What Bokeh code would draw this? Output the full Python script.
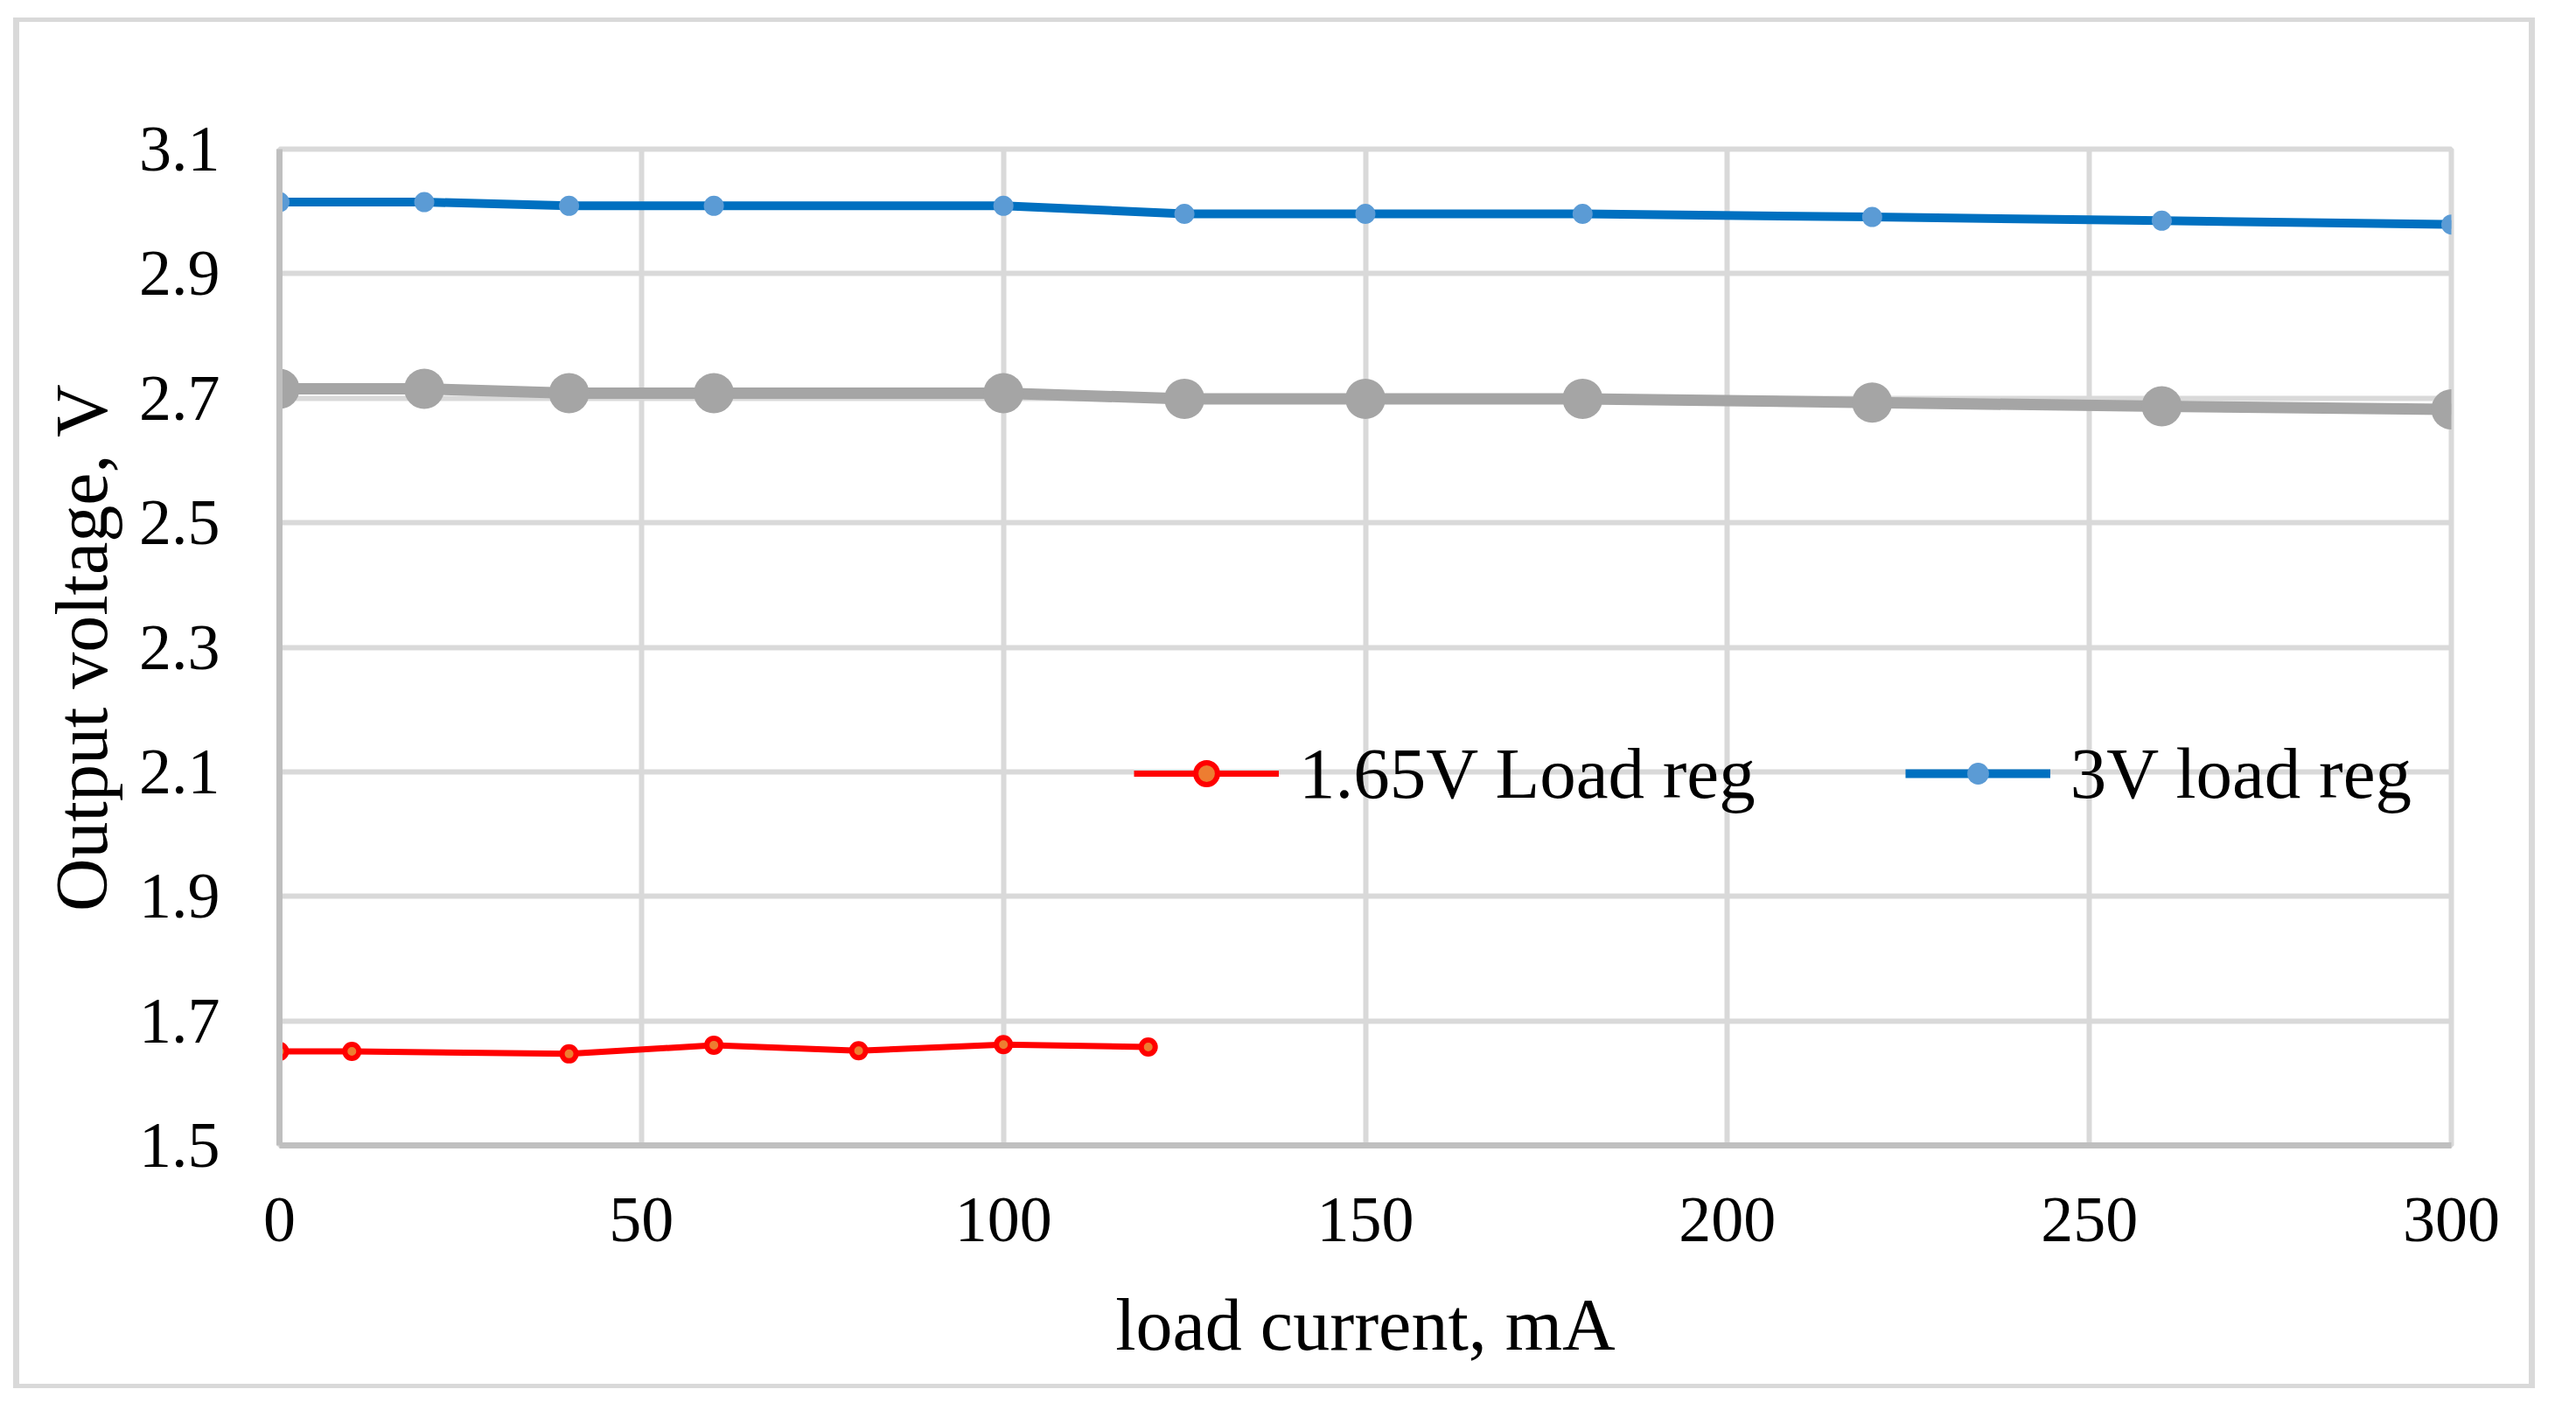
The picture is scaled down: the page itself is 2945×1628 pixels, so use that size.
from bokeh.plotting import figure
from bokeh.models import FixedTicker, Legend, LegendItem, ColumnDataSource
from bokeh.embed import file_html
from bokeh.resources import INLINE

# ---- data ----
x_red = [0, 10, 40, 60, 80, 100, 120]
y_red = [1.651, 1.651, 1.647, 1.661, 1.652, 1.662, 1.658]

x_blue = [0, 20, 40, 60, 100, 125, 150, 180, 220, 260, 300]
y_blue = [3.015, 3.015, 3.009, 3.009, 3.009, 2.996, 2.996, 2.996, 2.991, 2.985, 2.979]

x_gray = [0, 20, 40, 60, 100, 125, 150, 180, 220, 260, 300]
y_gray = [2.715, 2.715, 2.708, 2.708, 2.708, 2.699, 2.699, 2.699, 2.693, 2.687, 2.682]

x_ticks = [0, 50, 100, 150, 200, 250, 300]
x_tick_labels = ["0", "50", "100", "150", "200", "250", "300"]
y_ticks = [1.5, 1.7, 1.9, 2.1, 2.3, 2.5, 2.7, 2.9, 3.1]
y_tick_labels = ["1.5", "1.7", "1.9", "2.1", "2.3", "2.5", "2.7", "2.9", "3.1"]

label_red = "1.65V Load reg"
label_blue = "3V load reg"
x_title = "load current, mA"
y_title = "Output voltage, V"

FONT = "Liberation Serif"
GRID = "#D9D9D9"
AXIS = "#BFBFBF"

p = figure(width=2883, height=1567, x_range=(0, 300), y_range=(1.5, 3.1),
           output_backend="svg", toolbar_location=None,
           min_border_left=297, min_border_right=103,
           min_border_top=145, min_border_bottom=283)
p.background_fill_color = "white"
p.border_fill_color = "white"
p.outline_line_color = GRID
p.outline_line_width = 6
# outer chart-area border
p.styles = {"margin-left": "15px", "margin-top": "20px",
            "border-style": "solid", "border-color": GRID,
            "border-width": "5px 7px 5px 7px"}

# axes
p.xaxis.ticker = FixedTicker(ticks=x_ticks)
p.yaxis.ticker = FixedTicker(ticks=y_ticks)
p.xgrid.ticker = FixedTicker(ticks=x_ticks)
p.ygrid.ticker = FixedTicker(ticks=y_ticks)
p.xaxis.major_label_overrides = {t: l for t, l in zip(x_ticks, x_tick_labels)}
p.yaxis.major_label_overrides = {t: l for t, l in zip(y_ticks, y_tick_labels)}
for ax in (p.xaxis[0], p.yaxis[0]):
    ax.major_tick_line_color = None
    ax.minor_tick_line_color = None
    ax.major_label_text_font = FONT
    ax.major_label_text_font_size = "74px"
    ax.major_label_text_color = "black"
    ax.axis_label_text_font = FONT
    ax.axis_label_text_font_size = "84px"
    ax.axis_label_text_font_style = "normal"
    ax.axis_label_text_color = "black"
    ax.axis_line_color = AXIS
    ax.axis_line_width = 7
p.xaxis.axis_label = x_title
p.yaxis.axis_label = y_title
p.xaxis.major_label_standoff = 54
p.yaxis.major_label_standoff = 62
p.xaxis.axis_label_standoff = 46
p.yaxis.axis_label_standoff = 16

p.xgrid.grid_line_color = GRID
p.xgrid.grid_line_width = 6
p.ygrid.grid_line_color = GRID
p.ygrid.grid_line_width = 6

# series
src_red = ColumnDataSource(dict(x=x_red, y=y_red))
src_blue = ColumnDataSource(dict(x=x_blue, y=y_blue))
src_gray = ColumnDataSource(dict(x=x_gray, y=y_gray))

red_line = p.line("x", "y", source=src_red, line_color="#FF0000", line_width=7)
red_pts = p.scatter("x", "y", source=src_red, size=16, fill_color="#ED7D31",
                    line_color="#FF0000", line_width=6)

blue_line = p.line("x", "y", source=src_blue, line_color="#0070C0", line_width=10)
blue_pts = p.scatter("x", "y", source=src_blue, size=23, fill_color="#5B9BD5",
                     line_color=None)

gray_line = p.line("x", "y", source=src_gray, line_color="#A5A5A5", line_width=13)
gray_pts = p.scatter("x", "y", source=src_gray, size=46, fill_color="#A5A5A5",
                     line_color=None)

legend = Legend(items=[LegendItem(label=label_red, renderers=[red_line, red_pts]),
                       LegendItem(label=label_blue, renderers=[blue_line, blue_pts])],
                orientation="horizontal", location=(977, 377),
                padding=0, margin=0, spacing=171,
                glyph_width=166, glyph_height=62, label_standoff=23,
                label_text_font=FONT, label_text_font_size="83px",
                label_text_color="black",
                background_fill_alpha=0, border_line_alpha=0)
p.add_layout(legend)

open("out.html", "w").write(file_html(p, INLINE))
